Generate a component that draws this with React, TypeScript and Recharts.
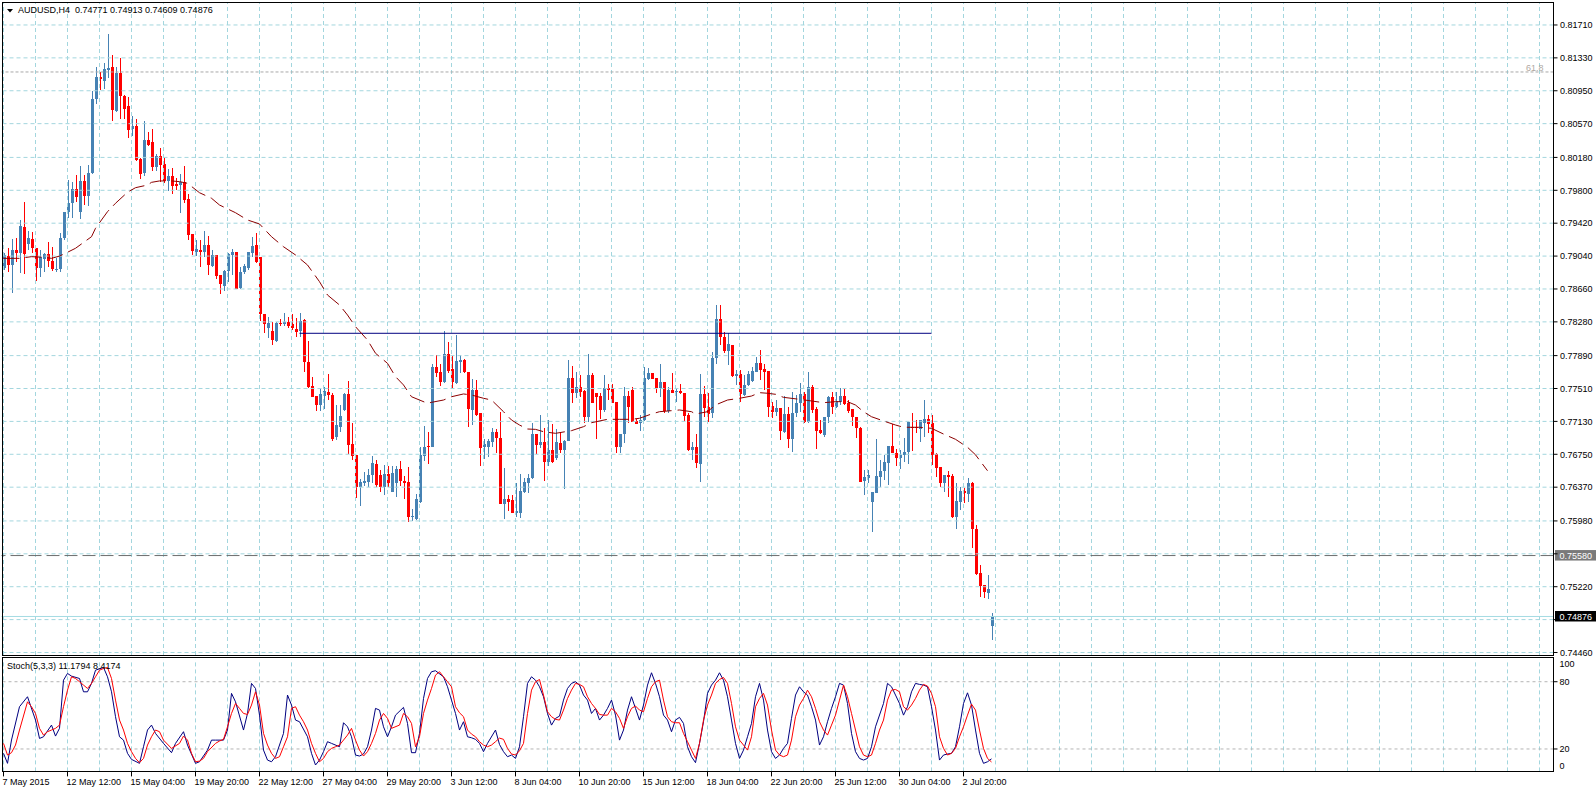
import React from "react";
import { Bar, ComposedChart, Line, ReferenceLine, XAxis, YAxis } from "recharts";

const FONT = "'Liberation Sans', Arial, sans-serif";
const BULL = "#4682b4";
const BEAR = "#ff0000";
const GRID = "#a3d6de";

// AUDUSD H4 bars: open, high, low, close
const CANDLES: [number, number, number, number][] = [
  [0.78899, 0.79072, 0.78879, 0.79052], [0.79041, 0.7913, 0.7886, 0.78937], [0.78937, 0.79238, 0.78618, 0.7911], [0.7911, 0.79245, 0.78968, 0.79072],
  [0.79072, 0.79457, 0.78841, 0.79388], [0.7938, 0.79669, 0.78833, 0.7906], [0.7918, 0.79334, 0.7911, 0.79245], [0.79238, 0.79322, 0.79079, 0.7913],
  [0.7913, 0.7913, 0.78756, 0.78899], [0.78899, 0.7911, 0.78802, 0.79026], [0.79003, 0.79079, 0.7886, 0.79064], [0.79064, 0.79207, 0.78918, 0.78987],
  [0.78987, 0.79149, 0.78872, 0.78887], [0.78879, 0.79014, 0.7886, 0.78895], [0.78887, 0.79303, 0.7886, 0.79249], [0.79249, 0.79553, 0.79226, 0.79546],
  [0.79549, 0.79919, 0.79484, 0.79657], [0.7965, 0.799, 0.79484, 0.79815], [0.79815, 0.79977, 0.79669, 0.79727], [0.79553, 0.80085, 0.79469, 0.79908],
  [0.79908, 0.79977, 0.7963, 0.79738], [0.79738, 0.80092, 0.79623, 0.79996], [0.79996, 0.80951, 0.79988, 0.80851], [0.80855, 0.81229, 0.80797, 0.81113],
  [0.81109, 0.81171, 0.80959, 0.81086], [0.81067, 0.81275, 0.80971, 0.81198], [0.8119, 0.81606, 0.81094, 0.81217], [0.81225, 0.81363, 0.80605, 0.80728],
  [0.8072, 0.81229, 0.80701, 0.81159], [0.81159, 0.81325, 0.8062, 0.80893], [0.8089, 0.80901, 0.80624, 0.8074], [0.80774, 0.80874, 0.80408, 0.80501],
  [0.80508, 0.80659, 0.80431, 0.80543], [0.80543, 0.8062, 0.80143, 0.8015], [0.80162, 0.80169, 0.79931, 0.79988], [0.79996, 0.80605, 0.79965, 0.80381],
  [0.80381, 0.80478, 0.80312, 0.80323], [0.80358, 0.80505, 0.80027, 0.80073], [0.80073, 0.80216, 0.80027, 0.80196], [0.80196, 0.80285, 0.799, 0.80092],
  [0.80104, 0.80169, 0.79881, 0.79912], [0.79912, 0.80046, 0.79796, 0.79965], [0.79965, 0.80054, 0.79754, 0.79854], [0.79877, 0.79946, 0.79804, 0.79854],
  [0.79861, 0.79988, 0.79542, 0.79892], [0.79892, 0.80085, 0.7965, 0.79688], [0.797, 0.79757, 0.79226, 0.79284], [0.79295, 0.79295, 0.79052, 0.79103],
  [0.79091, 0.79226, 0.79045, 0.79122], [0.7911, 0.79226, 0.7891, 0.79091], [0.79083, 0.79334, 0.79033, 0.79168], [0.79168, 0.79272, 0.78822, 0.78937],
  [0.78926, 0.7911, 0.78918, 0.79052], [0.79052, 0.79052, 0.78775, 0.78814], [0.78822, 0.78822, 0.78598, 0.78718], [0.78698, 0.78879, 0.78641, 0.78872],
  [0.78872, 0.79072, 0.78745, 0.79064], [0.79052, 0.79118, 0.78822, 0.79083], [0.79087, 0.79087, 0.78656, 0.7866], [0.78668, 0.78918, 0.7866, 0.78852],
  [0.78852, 0.78945, 0.78833, 0.78926], [0.78899, 0.79083, 0.78879, 0.79083], [0.79079, 0.79264, 0.79033, 0.7916], [0.79168, 0.79303, 0.78964, 0.78975],
  [0.79033, 0.79033, 0.78294, 0.78371], [0.78371, 0.78371, 0.78155, 0.78252], [0.78213, 0.78332, 0.7809, 0.78271], [0.78174, 0.78282, 0.78013, 0.7807],
  [0.78059, 0.78282, 0.78051, 0.78271], [0.78271, 0.78309, 0.78232, 0.78255], [0.78255, 0.78379, 0.78232, 0.78278], [0.78278, 0.7834, 0.78205, 0.78232],
  [0.78255, 0.78371, 0.78186, 0.78205], [0.78201, 0.78321, 0.78109, 0.78167], [0.78174, 0.78379, 0.78109, 0.7829], [0.78302, 0.78317, 0.77704, 0.7782],
  [0.7782, 0.78059, 0.7752, 0.77531], [0.77539, 0.77647, 0.77416, 0.77416], [0.77423, 0.77423, 0.77254, 0.77319], [0.77319, 0.77512, 0.77254, 0.77446],
  [0.77427, 0.77523, 0.77273, 0.77485], [0.77466, 0.77678, 0.77377, 0.77431], [0.77435, 0.77462, 0.76907, 0.76927], [0.76953, 0.77319, 0.76915, 0.77088],
  [0.77069, 0.77319, 0.77004, 0.77192], [0.77262, 0.77462, 0.77254, 0.77446], [0.77446, 0.77597, 0.76749, 0.76857], [0.76869, 0.77115, 0.76684, 0.76734],
  [0.76742, 0.76742, 0.76249, 0.76368], [0.76368, 0.76461, 0.76156, 0.76426], [0.76422, 0.76541, 0.76384, 0.76445], [0.76434, 0.76576, 0.76376, 0.76511],
  [0.76511, 0.7673, 0.76414, 0.76645], [0.76634, 0.76684, 0.76376, 0.76395], [0.76511, 0.76568, 0.76318, 0.76368], [0.76376, 0.76626, 0.7628, 0.76518],
  [0.76518, 0.76618, 0.76376, 0.76414], [0.76318, 0.76618, 0.7631, 0.7653], [0.76422, 0.76615, 0.7626, 0.76576], [0.76576, 0.76672, 0.76384, 0.76441],
  [0.76441, 0.76499, 0.7623, 0.76422], [0.76434, 0.76599, 0.75964, 0.76022], [0.76022, 0.76114, 0.75983, 0.76037], [0.75998, 0.76291, 0.75991, 0.76233],
  [0.76203, 0.7683, 0.76183, 0.76742], [0.76734, 0.77077, 0.76676, 0.76838], [0.76846, 0.77004, 0.76638, 0.7683], [0.76838, 0.77793, 0.7683, 0.77755],
  [0.77762, 0.77897, 0.77647, 0.77693], [0.77704, 0.77793, 0.77543, 0.77589], [0.77589, 0.78174, 0.77577, 0.77909], [0.77909, 0.78043, 0.77685, 0.77712],
  [0.77735, 0.77886, 0.77504, 0.77589], [0.77577, 0.78128, 0.77562, 0.77828], [0.77812, 0.77897, 0.77685, 0.77839], [0.77839, 0.77847, 0.77685, 0.77697],
  [0.77697, 0.77697, 0.77069, 0.77269], [0.77262, 0.77616, 0.77088, 0.77493], [0.77493, 0.77608, 0.77196, 0.77204], [0.77223, 0.77223, 0.76618, 0.76826],
  [0.7683, 0.76923, 0.76695, 0.76869], [0.76838, 0.76923, 0.76715, 0.76903], [0.76896, 0.77058, 0.76838, 0.77004], [0.77011, 0.77038, 0.76761, 0.76934],
  [0.76942, 0.77242, 0.76176, 0.76176], [0.76176, 0.76592, 0.75998, 0.7623], [0.7623, 0.7628, 0.76095, 0.76203], [0.76222, 0.7628, 0.76068, 0.76076],
  [0.76076, 0.76415, 0.76029, 0.76095], [0.76076, 0.76522, 0.7601, 0.76326], [0.76318, 0.76472, 0.76299, 0.76434], [0.76422, 0.76522, 0.76299, 0.76472],
  [0.76472, 0.77115, 0.76464, 0.76984], [0.76984, 0.76984, 0.76753, 0.76857], [0.76857, 0.77204, 0.76819, 0.76888], [0.76888, 0.7705, 0.76445, 0.76665],
  [0.76665, 0.77146, 0.76615, 0.768], [0.768, 0.771, 0.76646, 0.76657], [0.76703, 0.77038, 0.76684, 0.76892], [0.76884, 0.77011, 0.76769, 0.768],
  [0.768, 0.76915, 0.76345, 0.76907], [0.76907, 0.77839, 0.76904, 0.77635], [0.77635, 0.7777, 0.77339, 0.77454], [0.77454, 0.77697, 0.77396, 0.77524],
  [0.77524, 0.77666, 0.77416, 0.77474], [0.77481, 0.77493, 0.77108, 0.77185], [0.77185, 0.77905, 0.77127, 0.77666], [0.77666, 0.77685, 0.77339, 0.77346],
  [0.77454, 0.77462, 0.76923, 0.77408], [0.77423, 0.77454, 0.77154, 0.77262], [0.77262, 0.77666, 0.77242, 0.77512], [0.77512, 0.77558, 0.77377, 0.77493],
  [0.77504, 0.77558, 0.77339, 0.77346], [0.7735, 0.7735, 0.76761, 0.76838], [0.76838, 0.76984, 0.76769, 0.76984], [0.76984, 0.77531, 0.76877, 0.77423],
  [0.77423, 0.77485, 0.77108, 0.773], [0.77493, 0.77524, 0.77119, 0.77119], [0.77135, 0.77154, 0.77096, 0.771], [0.77108, 0.77204, 0.77023, 0.77146],
  [0.77146, 0.77755, 0.77138, 0.77635], [0.7762, 0.77743, 0.77608, 0.77685], [0.77685, 0.77693, 0.77616, 0.7762], [0.77635, 0.77635, 0.77462, 0.7752],
  [0.7752, 0.77793, 0.77416, 0.77581], [0.77589, 0.77589, 0.77231, 0.7725], [0.7725, 0.77524, 0.77231, 0.77493], [0.77493, 0.77685, 0.77454, 0.77454],
  [0.77466, 0.775, 0.77358, 0.77481], [0.77481, 0.77562, 0.77447, 0.77454], [0.77462, 0.77462, 0.77138, 0.77196], [0.77204, 0.77223, 0.76788, 0.768],
  [0.768, 0.76896, 0.76684, 0.76834], [0.76834, 0.76981, 0.76588, 0.76646], [0.76638, 0.77678, 0.76434, 0.77447], [0.77447, 0.77543, 0.77185, 0.77281],
  [0.77292, 0.77454, 0.77127, 0.77215], [0.77223, 0.77928, 0.77165, 0.77859], [0.77859, 0.78475, 0.77793, 0.78313], [0.78313, 0.78475, 0.78013, 0.78101],
  [0.78109, 0.78159, 0.77916, 0.77947], [0.77947, 0.78148, 0.77782, 0.78024], [0.78013, 0.78013, 0.77647, 0.77658], [0.77658, 0.77724, 0.7755, 0.77674],
  [0.77674, 0.77724, 0.77358, 0.77447], [0.77435, 0.77666, 0.77424, 0.77551], [0.77551, 0.77716, 0.77543, 0.77678], [0.77597, 0.77762, 0.77589, 0.77712],
  [0.77705, 0.77878, 0.77697, 0.77809], [0.77801, 0.77955, 0.77608, 0.77724], [0.77735, 0.77793, 0.77493, 0.77705], [0.77712, 0.77712, 0.77185, 0.773],
  [0.77308, 0.77358, 0.77166, 0.77242], [0.77242, 0.77377, 0.77192, 0.77289], [0.77289, 0.77289, 0.76915, 0.77023], [0.77011, 0.77424, 0.77, 0.77216],
  [0.77216, 0.773, 0.76827, 0.76923], [0.76923, 0.77474, 0.7678, 0.77231], [0.77223, 0.77435, 0.77185, 0.77339], [0.77339, 0.7757, 0.77235, 0.77447],
  [0.77447, 0.77474, 0.77108, 0.77127], [0.77127, 0.77705, 0.77115, 0.77531], [0.77531, 0.77551, 0.77231, 0.77262], [0.77269, 0.77293, 0.76811, 0.77023],
  [0.77031, 0.77146, 0.76985, 0.76992], [0.76973, 0.77185, 0.76946, 0.77177], [0.77177, 0.77427, 0.77115, 0.77408], [0.77408, 0.77474, 0.77212, 0.773],
  [0.773, 0.77474, 0.77289, 0.77366], [0.77358, 0.77512, 0.77319, 0.77424], [0.77424, 0.77512, 0.77316, 0.77327], [0.77339, 0.77377, 0.77223, 0.77254],
  [0.77269, 0.77269, 0.77077, 0.77177], [0.77185, 0.77185, 0.76942, 0.7705], [0.77058, 0.77069, 0.76434, 0.76434], [0.76445, 0.76569, 0.7628, 0.76484],
  [0.7648, 0.76569, 0.76414, 0.76511], [0.76203, 0.76311, 0.75848, 0.76311], [0.76307, 0.76927, 0.76307, 0.76499], [0.76491, 0.76684, 0.76368, 0.76561],
  [0.76561, 0.76742, 0.76453, 0.76665], [0.76653, 0.76846, 0.76395, 0.76846], [0.76846, 0.771, 0.76761, 0.76761], [0.76761, 0.76811, 0.76619, 0.76703],
  [0.76703, 0.768, 0.7658, 0.76742], [0.76742, 0.76934, 0.76665, 0.7678], [0.7678, 0.77119, 0.76634, 0.77119], [0.77069, 0.77223, 0.76792, 0.7705],
  [0.77069, 0.77146, 0.77, 0.7705], [0.77046, 0.77146, 0.76896, 0.77146], [0.77108, 0.77377, 0.76946, 0.77154], [0.77158, 0.77204, 0.76992, 0.771],
  [0.77108, 0.77204, 0.76626, 0.76742], [0.76753, 0.76761, 0.76491, 0.76595], [0.766, 0.766, 0.76369, 0.76422], [0.76415, 0.76511, 0.76318, 0.76511],
  [0.76511, 0.76557, 0.7626, 0.76491], [0.76499, 0.76519, 0.7601, 0.76022], [0.76029, 0.76415, 0.75883, 0.7621], [0.76202, 0.76376, 0.76106, 0.76326],
  [0.76326, 0.76357, 0.76191, 0.76299], [0.76291, 0.76473, 0.76202, 0.76422], [0.76422, 0.76433, 0.75664, 0.75883], [0.75883, 0.75933, 0.75355, 0.75363],
  [0.75375, 0.75471, 0.75098, 0.75232], [0.7524, 0.7524, 0.75086, 0.75162], [0.75151, 0.75355, 0.75078, 0.75193], [0.74771, 0.74913, 0.74609, 0.74876],
];

// moving average, read at bar index
const MA_POINTS: [number, number][] = [
  [0, 0.79014], [4, 0.79014], [7, 0.79033], [10, 0.79026], [12, 0.79014], [14, 0.7904], [16, 0.79084], [18, 0.7913],
  [22, 0.79264], [23, 0.79361], [26, 0.79553], [28, 0.7965], [31, 0.79777], [33, 0.7983], [36, 0.79861], [37, 0.79892],
  [39, 0.79908], [42, 0.79908], [44, 0.799], [46, 0.79881], [49, 0.79772], [52, 0.79708], [54, 0.7963], [58, 0.79541],
  [61, 0.79457], [64, 0.79411], [67, 0.79264], [70, 0.79148], [73, 0.79053], [76, 0.78937], [79, 0.78744], [81, 0.7859],
  [84, 0.78475], [86, 0.78359], [88, 0.78224], [91, 0.7807], [93, 0.77917], [96, 0.77801], [98, 0.77647], [100, 0.77551],
  [102, 0.77415], [104, 0.77377], [106, 0.77339], [107, 0.7735], [110, 0.77377], [112, 0.77415], [115, 0.77447], [117, 0.77435],
  [120, 0.77397], [122, 0.77377], [125, 0.77242], [127, 0.77146], [129, 0.77088], [131, 0.77042], [133, 0.77038], [135, 0.77011],
  [138, 0.76992], [142, 0.77023], [145, 0.77069], [147, 0.77115], [151, 0.77154], [154, 0.77154], [157, 0.77154], [159, 0.77166],
  [162, 0.77215], [164, 0.77242], [167, 0.77254], [169, 0.77262], [172, 0.77242], [173, 0.77215], [176, 0.77242], [178, 0.7732],
  [181, 0.77377], [184, 0.77397], [187, 0.77423], [189, 0.77462], [191, 0.77455], [193, 0.77443], [195, 0.77408], [199, 0.77385],
  [202, 0.77366], [205, 0.77346], [208, 0.77358], [211, 0.77358], [213, 0.77319], [215, 0.77242], [217, 0.77184], [220, 0.77135],
  [223, 0.77088], [225, 0.77062], [229, 0.77062], [232, 0.7705], [235, 0.76984], [238, 0.76923], [241, 0.76831], [243, 0.76744],
  [246, 0.7656],
];

// Stoch(5,3,3) main line
const K_POINTS: [number, number][] = [
  [0, 16.1], [1, 7.2], [2, 28], [4, 57.7], [6, 66.6], [8, 45.8], [9, 29.4], [10, 30.9], [12, 41.3], [13, 31.5], [14, 38.4],
  [15, 81.4], [16, 87.4], [17, 85], [19, 82.9], [20, 71], [21, 71], [22, 78.5], [23, 90.3], [25, 92.7], [26, 84.4], [27, 71],
  [28, 48.8], [29, 30.9], [30, 27.9], [31, 16.1], [32, 10.7], [34, 7.2], [35, 22], [36, 36.9], [37, 41.3], [38, 33.9], [40, 25],
  [42, 16.7], [43, 25], [45, 35.4], [46, 23.5], [48, 7.2], [49, 8.6], [51, 19], [52, 27.9], [53, 27.9], [55, 27.9], [56, 36.9],
  [57, 69.6], [58, 62.1], [60, 36.9], [61, 51.7], [62, 78.5], [63, 74], [64, 50.2], [65, 19], [66, 10.1], [67, 8.6], [68, 13.1],
  [70, 33.9], [71, 68.1], [72, 59.2], [73, 45.8], [74, 44.3], [76, 30.9], [77, 16.1], [78, 5.7], [79, 10.1], [80, 17.6], [81, 26.5],
  [82, 25], [84, 22], [85, 43.4], [86, 39.8], [87, 30.9], [88, 14.6], [89, 13.7], [90, 15.5], [91, 22], [92, 36.9], [93, 56.2],
  [94, 54.7], [95, 39.8], [96, 30.9], [97, 39.8], [98, 50.2], [100, 57.1], [101, 42.8], [102, 16.7], [103, 16.7], [104, 33.9],
  [105, 65.1], [106, 82.9], [107, 88.9], [108, 89.8], [110, 84.4], [111, 75.5], [112, 63.6], [113, 51.7], [114, 36.9], [115, 44.3],
  [116, 30.9], [117, 30], [118, 28.6], [119, 25], [120, 17.6], [121, 25], [123, 36.9], [124, 24], [125, 17.6], [126, 13.1],
  [127, 14.6], [128, 11.6], [129, 22], [130, 48.8], [131, 78.5], [132, 84.4], [133, 81.4], [134, 75.5], [135, 66.6], [136, 51.7],
  [137, 41.3], [138, 47.3], [139, 49.3], [140, 63.6], [141, 74], [142, 78.5], [143, 80], [144, 77], [145, 68.1], [146, 63.6],
  [147, 51.7], [148, 56.2], [149, 45.8], [150, 50.2], [151, 56.2], [152, 63.6], [153, 50.2], [154, 27.9], [155, 36.9], [156, 54.7],
  [157, 66.6], [158, 56.2], [159, 45.8], [160, 59.2], [161, 77], [162, 88], [163, 78.5], [164, 66.6], [165, 50.2], [166, 45.8],
  [167, 35.4], [168, 45.8], [169, 48.2], [170, 42.8], [171, 22], [172, 13.1], [173, 7.8], [174, 25], [175, 44.3], [176, 69.6],
  [177, 77], [178, 81.4], [179, 88], [180, 81.4], [181, 66.6], [182, 45.8], [183, 25], [184, 11.6], [185, 19], [186, 30.9],
  [187, 42.8], [188, 66.6], [189, 78.5], [190, 63.6], [191, 36.9], [192, 17.6], [193, 11.6], [194, 14.6], [195, 20.5], [196, 25],
  [197, 47.3], [198, 68.1], [199, 75.5], [200, 71], [201, 68.1], [202, 57.7], [203, 45.8], [204, 23.5], [205, 30.9], [206, 44.3],
  [207, 56.2], [208, 66.6], [209, 78.5], [210, 77], [211, 60.6], [212, 33.9], [213, 17.6], [214, 11.6], [215, 10.1], [216, 11.6],
  [217, 22], [218, 39.8], [220, 60.6], [221, 78.5], [222, 75.5], [223, 68.1], [224, 60.6], [225, 50.2], [226, 57.7], [227, 71],
  [228, 78.5], [229, 77.6], [230, 77], [231, 75.5], [232, 57.7], [233, 36.9], [234, 10.1], [235, 14.6], [236, 15.5], [237, 16.1],
  [238, 22], [239, 39.8], [240, 60.6], [241, 70.1], [242, 59.2], [243, 36.9], [244, 16.1], [245, 7.2], [246, 8.6], [247, 11.1794],
];

// Stoch signal line
const D_POINTS: [number, number][] = [
  [0, 25], [1, 14.6], [2, 16.7], [3, 23.5], [4, 36.9], [6, 62.1], [7, 57.7], [8, 51.7], [9, 38.4], [10, 32.4], [11, 35.4],
  [12, 36.9], [13, 38.4], [14, 41.3], [15, 57.7], [16, 72.5], [17, 84.4], [18, 82.9], [19, 80], [20, 77], [21, 74], [22, 78.5],
  [23, 84.4], [24, 90.3], [25, 91.8], [26, 92.7], [27, 82.9], [28, 63.6], [29, 45.8], [30, 36.9], [31, 25], [32, 17.6], [33, 11.6],
  [34, 7.8], [35, 11.6], [36, 23.5], [37, 30.9], [38, 36.9], [39, 35.4], [40, 27.9], [42, 20.5], [44, 25], [45, 31.5], [46, 27.9],
  [47, 16.1], [48, 8.6], [49, 9.2], [50, 11.6], [51, 17.6], [53, 25], [54, 27.1], [55, 28.6], [56, 39.8], [57, 51.7], [58, 60.6],
  [59, 56.2], [60, 51.7], [61, 50.8], [62, 59.2], [63, 71], [64, 59.2], [65, 33.9], [66, 23.5], [67, 16.1], [68, 11.6], [69, 13.1],
  [70, 22], [71, 30.9], [72, 56.2], [73, 57.7], [74, 50.2], [75, 44.3], [76, 36.9], [77, 25], [78, 16.1], [79, 8.6], [80, 11.6],
  [81, 17.6], [82, 20.5], [83, 22], [84, 23.5], [86, 32.4], [87, 38.4], [88, 27.9], [89, 19], [90, 13.7], [91, 17.6], [92, 25],
  [93, 33.9], [94, 45.8], [95, 51.7], [96, 47.3], [97, 38.4], [99, 41.3], [100, 51.7], [101, 48.8], [102, 42.8], [103, 22],
  [104, 30.9], [105, 51.7], [106, 63.6], [107, 74], [108, 85.9], [109, 88.9], [110, 84.4], [111, 80], [112, 75.5], [113, 57.7],
  [114, 52.3], [115, 48.8], [116, 36.9], [117, 33.3], [118, 30.9], [119, 26.5], [120, 23.5], [121, 22], [122, 23.5], [123, 26.5],
  [124, 29.7], [125, 28.6], [126, 20.5], [127, 15.5], [128, 14.6], [129, 18.4], [130, 25], [131, 51.7], [132, 72.5], [133, 80],
  [134, 82], [135, 68.1], [136, 53.2], [137, 48.8], [138, 46.4], [139, 45.8], [140, 54.7], [141, 65.1], [142, 72.5], [143, 78.5],
  [144, 77.6], [145, 75.5], [146, 66.6], [147, 60.6], [148, 56.2], [149, 50.8], [150, 50.2], [151, 50.2], [152, 56.2], [153, 53.2],
  [154, 47.3], [155, 38.4], [156, 48.8], [157, 56.2], [158, 58.3], [159, 54.7], [160, 53.2], [161, 65.1], [162, 75.5], [163, 80],
  [164, 81.4], [165, 63.6], [166, 48.8], [167, 44.3], [168, 43.4], [169, 43.4], [170, 33.9], [171, 26.5], [172, 19], [173, 11.6],
  [174, 25], [175, 45.8], [176, 59.2], [177, 68.1], [178, 78.5], [179, 82], [180, 83.8], [181, 78.5], [182, 60.6], [183, 39.8],
  [184, 27.9], [185, 23.5], [186, 19], [187, 30.9], [188, 57.7], [189, 65.1], [190, 69.6], [191, 59.2], [192, 36.9], [193, 19],
  [194, 14.6], [195, 13.1], [196, 14.6], [197, 27.9], [198, 48.8], [199, 59.2], [200, 65.1], [201, 72.5], [202, 66.6], [203, 56.2],
  [204, 44.3], [205, 36.9], [206, 32.4], [207, 41.3], [208, 50.2], [209, 63.6], [210, 77], [211, 66.6], [212, 51.7], [213, 36.9],
  [214, 22], [215, 14.6], [216, 13.1], [217, 14.6], [218, 25], [219, 36.9], [220, 45.8], [221, 63.6], [222, 72.5], [223, 73.1],
  [224, 71], [225, 57.7], [226, 54.7], [227, 59.2], [228, 65.1], [229, 72.5], [230, 77.6], [231, 76.1], [232, 69.6], [233, 57.7],
  [234, 30.9], [235, 20.5], [236, 14.6], [237, 16.1], [238, 20.5], [239, 30.9], [240, 39.8], [241, 50.2], [242, 60], [243, 54.7],
  [244, 36.9], [245, 20.5], [246, 11.6], [247, 8.4174],
];

const GRID_PRICES = [
  0.8171, 0.8133, 0.8095, 0.8057, 0.8018, 0.798, 0.7942, 0.7904, 0.7866, 0.7828,
  0.7789, 0.7751, 0.7713, 0.7675, 0.7637, 0.7598, 0.756, 0.7522, 0.7484, 0.7446,
];
const TIME_LABELS = [
  "7 May 2015", "12 May 12:00", "15 May 04:00", "19 May 20:00", "22 May 12:00", "27 May 04:00",
  "29 May 20:00", "3 Jun 12:00", "8 Jun 04:00", "10 Jun 20:00", "15 Jun 12:00", "18 Jun 04:00",
  "22 Jun 20:00", "25 Jun 12:00", "30 Jun 04:00", "2 Jul 20:00",
];
const STOCH_TICKS = [0, 20, 80, 100];

const SLOTS = 388; // visible bar slots incl. empty space on the right
const GRID_EVERY = 8;
const LABEL_EVERY = 16;
const PRICE_DOMAIN: [number, number] = [0.74431, 0.81964];
const RESIST = { from: 74, to: 232, price: 0.78148 };
const LEVEL = 0.7558;
const BID = 0.74876;
const FIB = 0.81167;

type Row = {
  i: number;
  o?: number;
  h?: number;
  l?: number;
  c?: number;
  range?: [number, number];
  ma?: number;
  k?: number;
  d?: number;
};

const rows: Row[] = Array.from({ length: SLOTS }, (_, i) => {
  const b = CANDLES[i];
  return b ? { i, o: b[0], h: b[1], l: b[2], c: b[3], range: [b[2], b[1]] } : { i };
});
MA_POINTS.forEach(([i, v]) => (rows[i].ma = v));
K_POINTS.forEach(([i, v]) => (rows[i].k = v));
D_POINTS.forEach(([i, v]) => (rows[i].d = v));

const gridX = rows.filter((r) => r.i % GRID_EVERY === 0).map((r) => r.i);

function Candle(props: any) {
  const { x, y, width, height, payload } = props;
  if (!payload || payload.o == null || height == null) return null;
  const { o, h, l, c } = payload;
  const span = h - l;
  const toY = (p: number) => (span > 0 ? y + ((h - p) / span) * height : y);
  const color = c >= o ? BULL : BEAR;
  const left = Math.round(x);
  const top = Math.round(toY(Math.max(o, c)));
  const bot = Math.round(toY(Math.min(o, c)));
  const wTop = Math.round(y);
  const wBot = Math.round(y + height);
  return (
    <g>
      <rect x={left + 1} y={wTop} width={1} height={Math.max(wBot - wTop, 1)} fill={color} />
      <rect x={left} y={top} width={3} height={Math.max(bot - top, 1)} fill={color} />
    </g>
  );
}

function PriceTick(props: any) {
  const { x, y, payload } = props;
  const v = Number(payload.value);
  const covered = [LEVEL, BID].some((m) => Math.abs(m - v) < 0.0005);
  return (
    <g>
      <line x1={x} x2={x + 4} y1={y} y2={y} stroke="#000" />
      {!covered && (
        <text x={x + 6.5} y={y + 3.3} fontSize={9} fontFamily={FONT} fill="#000">
          {v.toFixed(5)}
        </text>
      )}
    </g>
  );
}

function StochTick(props: any) {
  const { x, y, payload } = props;
  const v = Number(payload.value);
  const shift = v === 100 ? 4.7 : v === 0 ? -5.7 : 0;
  return (
    <g>
      {shift === 0 && <line x1={x} x2={x + 4} y1={y} y2={y} stroke="#000" />}
      <text x={x + 6} y={y + shift + 3.3} fontSize={9} fontFamily={FONT} fill="#000">
        {v}
      </text>
    </g>
  );
}

function TimeTick(props: any) {
  const { x, y, payload } = props;
  const idx = Number(payload.value);
  if (idx % LABEL_EVERY !== 0) return null;
  const label = TIME_LABELS[idx / LABEL_EVERY];
  if (!label) return null;
  return (
    <g>
      <line x1={x} x2={x} y1={y} y2={y + 5} stroke="#000" />
      <text x={x - 1} y={y + 13.6} fontSize={9} fontFamily={FONT} fill="#000">
        {label}
      </text>
    </g>
  );
}

function priceBox(value: number, fill: string) {
  return {
    content: (p: any) => {
      const vb = p.viewBox || {};
      const bx = vb.x + vb.width + 1.5;
      return (
        <g>
          <rect x={bx} y={vb.y - 5.5} width={41} height={10.5} fill={fill} />
          <text x={bx + 4.5} y={vb.y + 3.3} fontSize={9} fontFamily={FONT} fill="#fff">
            {value.toFixed(5)}
          </text>
        </g>
      );
    },
  };
}

const fibLabel = {
  content: (p: any) => {
    const vb = p.viewBox || {};
    return (
      <text x={vb.x + vb.width - 10} y={vb.y - 1} textAnchor="end" fontSize={9} fontFamily={FONT} fill="#b0a8a2">
        61.8
      </text>
    );
  },
};

export default function App() {
  return (
    <div style={{ position: "absolute", left: 0, top: 0, width: 1596, height: 790, background: "#fff", overflow: "hidden" }}>
      <div style={{ position: "absolute", left: 0, top: 0 }}>
        <ComposedChart width={1596} height={660} data={rows} margin={{ top: 3, right: 0, bottom: 5, left: 1.5 }}>
          <XAxis dataKey="i" hide />
          <YAxis
            orientation="right"
            width={42.5}
            domain={PRICE_DOMAIN}
            allowDataOverflow
            ticks={GRID_PRICES}
            interval={0}
            axisLine={false}
            tickLine={false}
            tickSize={0}
            tickMargin={0}
            tick={<PriceTick />}
          />
          {gridX.map((i) => (
            <ReferenceLine key={`gx${i}`} x={i} stroke={GRID} strokeDasharray="4 3" />
          ))}
          {GRID_PRICES.map((p) => (
            <ReferenceLine key={`gy${p}`} y={p} stroke={GRID} strokeDasharray="4 3" />
          ))}
          <ReferenceLine y={FIB} stroke="#a8a8a8" strokeDasharray="3 2" label={fibLabel} />
          <ReferenceLine y={BID} stroke="#a4dce3" label={priceBox(BID, "#000")} />
          <ReferenceLine y={LEVEL} stroke="#6e6e6e" strokeDasharray="13 5" label={priceBox(LEVEL, "#7a7a7a")} />
          <ReferenceLine
            segment={[
              { x: RESIST.from, y: RESIST.price },
              { x: RESIST.to, y: RESIST.price },
            ]}
            stroke="#000080"
          />
          <Bar dataKey="range" barSize={3} shape={<Candle />} isAnimationActive={false} />
          <Line
            type="linear"
            dataKey="ma"
            stroke="#8b0000"
            strokeWidth={1}
            strokeDasharray="16 6"
            dot={false}
            activeDot={false}
            connectNulls
            isAnimationActive={false}
          />
        </ComposedChart>
      </div>

      <div style={{ position: "absolute", left: 0, top: 657 }}>
        <ComposedChart width={1596} height={133} data={rows} margin={{ top: 2.3, right: 0, bottom: 0, left: 1.5 }}>
          <XAxis
            dataKey="i"
            height={18.6}
            interval={LABEL_EVERY - 1}
            axisLine={false}
            tickLine={false}
            tickSize={0}
            tickMargin={0}
            tick={<TimeTick />}
          />
          <YAxis
            orientation="right"
            width={42.5}
            domain={[0, 100]}
            ticks={STOCH_TICKS}
            interval={0}
            axisLine={false}
            tickLine={false}
            tickSize={0}
            tickMargin={0}
            tick={<StochTick />}
          />
          {gridX.map((i) => (
            <ReferenceLine key={`sx${i}`} x={i} stroke={GRID} strokeDasharray="4 3" />
          ))}
          <ReferenceLine y={80} stroke="#b4b4b4" strokeDasharray="3 3" />
          <ReferenceLine y={20} stroke="#b4b4b4" strokeDasharray="3 3" />
          <Bar dataKey="none" isAnimationActive={false} />
          <Line type="linear" dataKey="k" stroke="#000080" strokeWidth={1} dot={false} activeDot={false} connectNulls isAnimationActive={false} />
          <Line type="linear" dataKey="d" stroke="#ff0000" strokeWidth={1} dot={false} activeDot={false} connectNulls isAnimationActive={false} />
        </ComposedChart>
      </div>

      <div style={{ position: "absolute", left: 2, top: 2, width: 1552, height: 654, border: "1px solid #000", boxSizing: "border-box", pointerEvents: "none" }} />
      <div style={{ position: "absolute", left: 2, top: 657, width: 1552, height: 115, border: "1px solid #000", boxSizing: "border-box", pointerEvents: "none" }} />

      <div style={{ position: "absolute", left: 6, top: 5, fontFamily: FONT, fontSize: 9, color: "#000", whiteSpace: "pre", lineHeight: "11px", display: "flex", alignItems: "center" }}>
        <svg width={12} height={11}>
          <polygon points="1,4 7,4 4,7.5" fill="#000" />
        </svg>
        <span>AUDUSD,H4  0.74771 0.74913 0.74609 0.74876</span>
      </div>
      <div style={{ position: "absolute", left: 7, top: 661, fontFamily: FONT, fontSize: 9, color: "#000", whiteSpace: "pre", lineHeight: "11px" }}>
        Stoch(5,3,3) 11.1794 8.4174
      </div>
    </div>
  );
}
